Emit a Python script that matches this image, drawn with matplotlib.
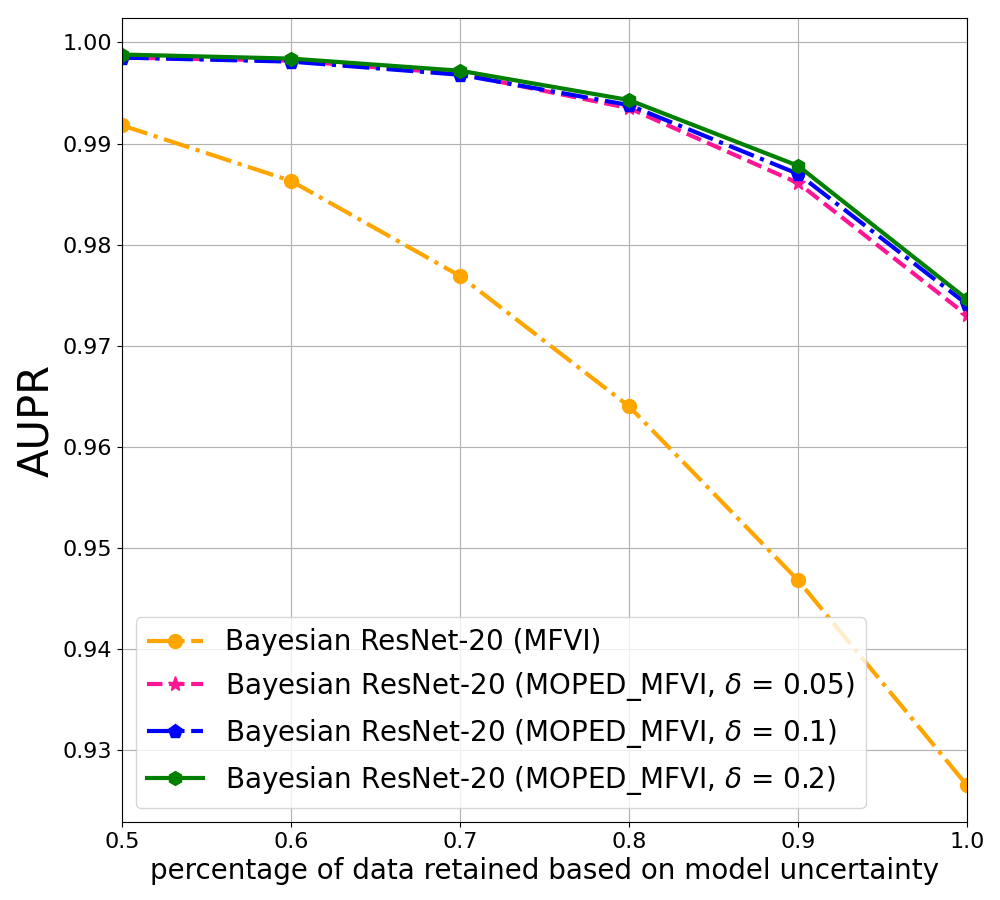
import matplotlib
matplotlib.use("Agg")
import matplotlib.pyplot as plt

# data retained fraction
retained = [0.5, 0.6, 0.7, 0.8, 0.9, 1.0]

aupr_mfvi = [0.9918, 0.9863, 0.9769, 0.9640, 0.9468, 0.9265]
aupr_moped_005 = [0.9985, 0.9982, 0.9969, 0.9935, 0.9861, 0.9730]
aupr_moped_01 = [0.9985, 0.9981, 0.9968, 0.9938, 0.9870, 0.9741]
aupr_moped_02 = [0.9988, 0.9984, 0.9972, 0.9943, 0.9878, 0.9746]

labels = [
    "Bayesian ResNet-20 (MFVI)",
    r"Bayesian ResNet-20 (MOPED_MFVI, $\delta$ = 0.05)",
    r"Bayesian ResNet-20 (MOPED_MFVI, $\delta$ = 0.1)",
    r"Bayesian ResNet-20 (MOPED_MFVI, $\delta$ = 0.2)",
]

fig = plt.figure(figsize=(10, 9), dpi=100)
ax = fig.add_axes([0.122, 0.0867, 0.845, 0.8933])

ax.plot(retained, aupr_mfvi, color="orange", linestyle="-.", marker="o",
        markersize=10, linewidth=3, label=labels[0])
ax.plot(retained, aupr_moped_005, color="deeppink", linestyle="--", marker="*",
        markersize=11, linewidth=3, label=labels[1])
ax.plot(retained, aupr_moped_01, color="blue", linestyle="-.", marker="p",
        markersize=10, linewidth=3, label=labels[2])
ax.plot(retained, aupr_moped_02, color="green", linestyle="-", marker="h",
        markersize=10, linewidth=3, label=labels[3])

ax.set_xlim(0.5, 1.0)
ax.grid(True)
ax.tick_params(labelsize=16)
ax.set_xlabel("percentage of data retained based on model uncertainty", fontsize=20)
ax.set_ylabel("AUPR", fontsize=30)
ax.legend(loc="lower left", fontsize=20)

fig.savefig("out.png", dpi=100)
